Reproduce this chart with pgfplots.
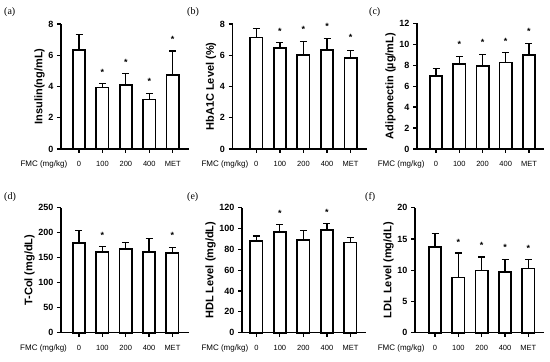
\documentclass[border=0pt]{standalone}
\usepackage{pgfplots}
\pgfplotsset{compat=1.18}
\usepackage{fontspec}
\setmainfont{Liberation Sans}
\newfontfamily\seriffont{Liberation Serif}

\pgfplotsset{
  gp/.style={
    scale only axis,
    anchor=south west,
    axis on top,
    axis x line*=bottom, axis y line*=left,
    axis line style={-, line width=1.5pt},
    tick style={line width=1.2pt, black},
    major tick length=4pt,
    tick align=outside,
    xtick={0,1,2,3,4},
    xticklabels={0,100,200,400,MET},
    xticklabel style={font=\fontsize{7.5}{7.5}\selectfont, anchor=base, yshift=-14pt},
    yticklabel style={font=\bfseries\fontsize{9}{9}\selectfont},
    ylabel style={font=\bfseries\fontsize{11}{11}\selectfont},
    ylabel shift=-3pt,
    /pgf/number format/assume math mode=true,
    ymin=0,
    clip=false,
    height=125pt,
  },
  gpbar/.style={ybar, bar width=12.3pt, fill=white, draw=black, line width=1.7pt,
     error bars/.cd, y dir=plus, y explicit,
     error bar style={line width=1.2pt, black},
     error mark options={rotate=90, line width=1.2pt, black, mark size=3.5pt}},
  gpstar/.style={only marks, mark=*, mark size=0pt, mark options={draw=none, fill=none},
     nodes near coords={*},
     every node near coord/.append style={anchor=center, font=\bfseries\fontsize{9}{9}\selectfont, yshift=-2pt, inner sep=0pt}},
  gptick/.style={only marks, mark=|, mark size=2pt, mark options={yshift=-2pt, solid, line width=1.2pt, black}},
}
\newcommand{\fmc}[1]{\node[anchor=base west, font=\fontsize{8}{8}\selectfont, xshift=#1, yshift=-18pt] at (rel axis cs:0,0) {FMC (mg/kg)};}
\newcommand{\xticks}{\addplot[gptick] coordinates {(0,0) (1,0) (2,0) (3,0) (4,0)};}

\begin{document}
\begin{tikzpicture}
\useasboundingbox (0,0) rectangle (550pt,362pt);

% (a)
\begin{axis}[gp, at={(61pt,213pt)}, width=128.3pt, xmin=-0.77, xmax=4.71,
  ymax=8, ytick={0,2,4,6,8}, ylabel={Insulin(ng/mL)}]
\addplot[gpbar] coordinates {(0,6.35) +- (0,0.98) (1,3.93) +- (0,0.27) (2,4.10) +- (0,0.74) (3,3.16) +- (0,0.40) (4,4.73) +- (0,1.54)};
\addplot[gpstar] coordinates {(1,5.05) (2,5.7) (3,4.48) (4,7.12)};
\xticks
\fmc{-44pt}
\end{axis}

% (b)
\begin{axis}[gp, at={(232.5pt,213pt)}, width=134.2pt, xmin=-1.01, xmax=4.68,
  ymax=8, ytick={0,2,4,6,8}, ylabel={HbA1C Level (\%)}]
\addplot[gpbar] coordinates {(0,7.14) +- (0,0.56) (1,6.48) +- (0,0.34) (2,6.03) +- (0,0.84) (3,6.35) +- (0,0.71) (4,5.82) +- (0,0.49)};
\addplot[gpstar] coordinates {(1,7.68) (2,7.76) (3,7.97) (4,7.25)};
\xticks
\fmc{-34.5pt}
\end{axis}

% (c)
\begin{axis}[gp, at={(417pt,213pt)}, width=127.3pt, height=125.7pt, xmin=-0.82, xmax=4.66,
  ymax=12, ytick={0,2,4,6,8,10,12}, ylabel={Adiponectin (\textmu g/mL)}]
\addplot[gpbar] coordinates {(0,6.97) +- (0,0.71) (1,8.12) +- (0,0.70) (2,7.90) +- (0,1.14) (3,8.25) +- (0,0.95) (4,8.98) +- (0,1.12)};
\addplot[gpstar] coordinates {(1,10.19) (2,10.35) (3,10.5) (4,11.37)};
\xticks
\fmc{-42.7pt}
\end{axis}

% (d)
\begin{axis}[gp, at={(61pt,29.3pt)}, width=128pt, xmin=-0.77, xmax=4.71,
  ymax=250, ytick={0,50,100,150,200,250}, ylabel={T-Col (mg/dL)}]
\addplot[gpbar] coordinates {(0,180) +- (0,24.7) (1,161) +- (0,11.7) (2,168) +- (0,13) (3,162) +- (0,26.7) (4,160) +- (0,10)};
\addplot[gpstar] coordinates {(1,198.7) (4,198)};
\xticks
\fmc{-44.3pt}
\end{axis}

% (e)
\begin{axis}[gp, at={(242pt,29.3pt)}, width=124pt, xmin=-0.61, xmax=4.66,
  ymax=120, ytick={0,20,40,60,80,100,120}, ylabel={HDL Level (mg/dL)}]
\addplot[gpbar] coordinates {(0,88) +- (0,4.8) (1,97) +- (0,7) (2,89) +- (0,9.2) (3,98.9) +- (0,6.1) (4,86.7) +- (0,4.5)};
\addplot[gpstar] coordinates {(1,116) (3,117.8)};
\xticks
\fmc{-44pt}
\end{axis}

% (f)
\begin{axis}[gp, at={(415pt,29.3pt)}, width=129pt, xmin=-0.86, xmax=4.67,
  ymax=20, ytick={0,5,10,15,20}, ylabel={LDL Level (mg/dL)}]
\addplot[gpbar] coordinates {(0,13.76) +- (0,2.14) (1,8.85) +- (0,3.9) (2,9.97) +- (0,2.13) (3,9.76) +- (0,1.92) (4,10.29) +- (0,1.39)};
\addplot[gpstar] coordinates {(1,14.77) (2,14.35) (3,13.97) (4,13.8)};
\xticks
\fmc{-40.7pt}
\end{axis}

\begin{scope}[every node/.style={anchor=base west, font=\seriffont\fontsize{10}{10}\selectfont, inner sep=0pt}]
\node at (4pt,347pt) {(a)};
\node at (187pt,347pt) {(b)};
\node at (369pt,347pt) {(c)};
\node at (4pt,162pt) {(d)};
\node at (187pt,162pt) {(e)};
\node at (365pt,162pt) {(f)};
\end{scope}
\end{tikzpicture}
\end{document}
